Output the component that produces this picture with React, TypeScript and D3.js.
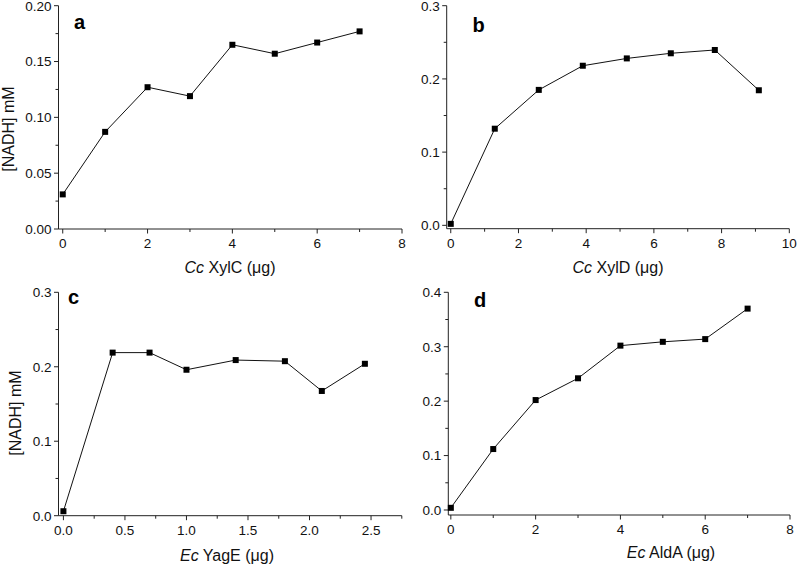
import React from "react";
import * as d3 from "d3";

// Panel a: Cc XylC
const xylCAmount = [0, 1, 2, 3, 4, 5, 6, 7];
const xylCNadh = [0.031, 0.087, 0.127, 0.119, 0.165, 0.157, 0.167, 0.177];
// Panel b: Cc XylD
const xylDAmount = [0, 1.3, 2.6, 3.9, 5.2, 6.5, 7.8, 9.1];
const xylDNadh = [0.002, 0.132, 0.185, 0.218, 0.228, 0.235, 0.2395, 0.1845];
// Panel c: Ec YagE
const yagEAmount = [0, 0.4, 0.7, 1.0, 1.4, 1.8, 2.1, 2.45];
const yagENadh = [0.006, 0.219, 0.219, 0.196, 0.209, 0.2075, 0.1675, 0.204];
// Panel d: Ec AldA
const aldAAmount = [0, 1, 2, 3, 4, 5, 6, 7];
const aldANadh = [0.004, 0.112, 0.202, 0.242, 0.302, 0.309, 0.314, 0.37];

const aXTicks = [0, 2, 4, 6, 8];
const aYTicks = [0, 0.05, 0.1, 0.15, 0.2];
const bXTicks = [0, 2, 4, 6, 8, 10];
const bYTicks = [0, 0.1, 0.2, 0.3];
const cXTicks = [0, 0.5, 1.0, 1.5, 2.0, 2.5];
const cYTicks = [0, 0.1, 0.2, 0.3];
const dXTicks = [0, 2, 4, 6, 8];
const dYTicks = [0, 0.1, 0.2, 0.3, 0.4];

const FONT = "'Liberation Sans', Arial, sans-serif";

type PanelProps = {
  xs: number[];
  ys: number[];
  xDomain: [number, number];
  yDomain: [number, number];
  xRange: [number, number];
  yRange: [number, number];
  xTicks: number[];
  yTicks: number[];
  xMinorStep: number;
  yMinorStep: number;
  xFmt: (v: number) => string;
  yFmt: (v: number) => string;
  letter: string;
  letterPos: [number, number];
  xTitleItalic: string;
  xTitleRest: string;
  xTitlePos: [number, number];
  yTitle?: string;
  yTitlePos?: [number, number];
  xTickLabelY: number;
};

function Panel(p: PanelProps) {
  const x = d3.scaleLinear().domain(p.xDomain).range(p.xRange);
  const y = d3.scaleLinear().domain(p.yDomain).range(p.yRange);
  const line = d3
    .line<number>()
    .x((_, i) => x(p.xs[i]))
    .y((d) => y(d));
  const x0 = p.xRange[0];
  const y0 = p.yRange[0];
  const xMinor: number[] = [];
  for (let v = Math.ceil(p.xDomain[0] / p.xMinorStep) * p.xMinorStep; v <= p.xDomain[1] + 1e-9; v += p.xMinorStep) {
    const r = Math.round(v / p.xMinorStep) * p.xMinorStep;
    if (!p.xTicks.some((t) => Math.abs(t - r) < 1e-9)) xMinor.push(r);
  }
  const yMinor: number[] = [];
  for (let v = Math.ceil(p.yDomain[0] / p.yMinorStep) * p.yMinorStep; v <= p.yDomain[1] + 1e-9; v += p.yMinorStep) {
    const r = Math.round(v / p.yMinorStep) * p.yMinorStep;
    if (!p.yTicks.some((t) => Math.abs(t - r) < 1e-9)) yMinor.push(r);
  }
  const ms = 6;
  return (
    <g>
      {/* axes */}
      <line x1={x0} x2={p.xRange[1]} y1={y0} y2={y0} stroke="#222" strokeWidth={1} />
      <line x1={x0} x2={x0} y1={p.yRange[0]} y2={p.yRange[1]} stroke="#222" strokeWidth={1} />
      {p.xTicks.map((t) => (
        <g key={"xt" + t}>
          <line x1={x(t)} x2={x(t)} y1={y0} y2={y0 + 4.5} stroke="#222" strokeWidth={1} />
          <text x={x(t)} y={p.xTickLabelY} textAnchor="middle" fontSize={13.5} fontFamily={FONT} fill="#111">
            {p.xFmt(t)}
          </text>
        </g>
      ))}
      {xMinor.map((t) => (
        <line key={"xm" + t} x1={x(t)} x2={x(t)} y1={y0} y2={y0 + 3} stroke="#222" strokeWidth={1} />
      ))}
      {p.yTicks.map((t) => (
        <g key={"yt" + t}>
          <line x1={x0 - 4.5} x2={x0} y1={y(t)} y2={y(t)} stroke="#222" strokeWidth={1} />
          <text x={x0 - 7} y={y(t) + 4.8} textAnchor="end" fontSize={13.5} fontFamily={FONT} fill="#111">
            {p.yFmt(t)}
          </text>
        </g>
      ))}
      {yMinor.map((t) => (
        <line key={"ym" + t} x1={x0 - 3} x2={x0} y1={y(t)} y2={y(t)} stroke="#222" strokeWidth={1} />
      ))}
      {/* data */}
      <path d={line(p.ys) || ""} fill="none" stroke="#111" strokeWidth={1} />
      {p.ys.map((v, i) => (
        <rect key={"m" + i} x={x(p.xs[i]) - ms / 2} y={y(v) - ms / 2} width={ms} height={ms} fill="#000" />
      ))}
      {/* letter */}
      <text x={p.letterPos[0]} y={p.letterPos[1]} fontSize={20} fontWeight="bold" fontFamily={FONT} fill="#000">
        {p.letter}
      </text>
      {/* x title */}
      <text x={p.xTitlePos[0]} y={p.xTitlePos[1]} textAnchor="middle" fontSize={16} fontFamily={FONT} fill="#111">
        <tspan fontStyle="italic">{p.xTitleItalic}</tspan>
        <tspan>{p.xTitleRest}</tspan>
      </text>
      {p.yTitle && p.yTitlePos && (
        <text
          transform={`translate(${p.yTitlePos[0]},${p.yTitlePos[1]}) rotate(-90)`}
          textAnchor="middle"
          fontSize={16}
          fontFamily={FONT}
          fill="#111"
        >
          {p.yTitle}
        </text>
      )}
    </g>
  );
}

const f2 = (v: number) => v.toFixed(2);
const f1 = (v: number) => v.toFixed(1);
const f0 = (v: number) => v.toFixed(0);

export default function App() {
  return (
    <svg width={797} height={566} style={{ position: "absolute", left: 0, top: 0, background: "#fff" }}>
      <Panel
        xs={xylCAmount}
        ys={xylCNadh}
        xDomain={[-0.1, 8]}
        yDomain={[0, 0.2]}
        xRange={[58.5, 402]}
        yRange={[229, 5.7]}
        xTicks={aXTicks}
        yTicks={aYTicks}
        xMinorStep={1}
        yMinorStep={0.025}
        xFmt={f0}
        yFmt={f2}
        letter="a"
        letterPos={[74, 28.5]}
        xTitleItalic="Cc"
        xTitleRest=" XylC (μg)"
        xTitlePos={[230, 273]}
        yTitle="[NADH] mM"
        yTitlePos={[13.5, 129]}
        xTickLabelY={248}
      />
      <Panel
        xs={xylDAmount}
        ys={xylDNadh}
        xDomain={[-0.12, 10]}
        yDomain={[-0.0046, 0.3]}
        xRange={[446.7, 789.3]}
        yRange={[228.7, 5.7]}
        xTicks={bXTicks}
        yTicks={bYTicks}
        xMinorStep={1}
        yMinorStep={0.05}
        xFmt={f0}
        yFmt={f1}
        letter="b"
        letterPos={[472.5, 32.3]}
        xTitleItalic="Cc"
        xTitleRest=" XylD (μg)"
        xTitlePos={[618, 273]}
        xTickLabelY={248}
      />
      <Panel
        xs={yagEAmount}
        ys={yagENadh}
        xDomain={[-0.04, 2.75]}
        yDomain={[0, 0.3]}
        xRange={[58.5, 401.8]}
        yRange={[515.7, 292.3]}
        xTicks={cXTicks}
        yTicks={cYTicks}
        xMinorStep={0.25}
        yMinorStep={0.05}
        xFmt={f1}
        yFmt={f1}
        letter="c"
        letterPos={[68, 303.5]}
        xTitleItalic="Ec"
        xTitleRest=" YagE (μg)"
        xTitlePos={[227, 561]}
        yTitle="[NADH] mM"
        yTitlePos={[20.5, 413]}
        xTickLabelY={535}
      />
      <Panel
        xs={aldAAmount}
        ys={aldANadh}
        xDomain={[-0.06, 8]}
        yDomain={[-0.0092, 0.4]}
        xRange={[448.3, 790]}
        yRange={[515, 292.3]}
        xTicks={dXTicks}
        yTicks={dYTicks}
        xMinorStep={1}
        yMinorStep={0.05}
        xFmt={f0}
        yFmt={f1}
        letter="d"
        letterPos={[474, 306.7]}
        xTitleItalic="Ec"
        xTitleRest=" AldA (μg)"
        xTitlePos={[671, 558]}
        xTickLabelY={534}
      />
    </svg>
  );
}
